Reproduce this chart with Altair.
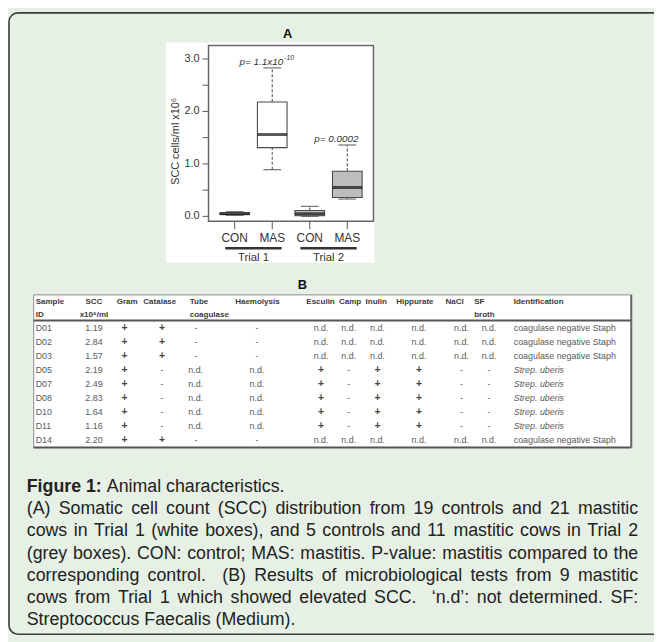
import altair as alt
import pandas as pd

# ---------------- canvas ----------------
W, H = 654, 634          # whole svg (page origin is at 8,8)
FONT = "Liberation Sans"
BG = "#e7f0e4"

# ---------------- Panel A data (SCC, x10^6 cells/ml) ----------------
trial = ["Trial 1", "Trial 1", "Trial 2", "Trial 2"]
group = ["CON", "MAS", "CON", "MAS"]
w_low = [0.02, 0.89, 0.00, 0.33]
q1 = [0.035, 1.31, 0.01, 0.36]
med = [0.05, 1.56, 0.05, 0.55]
q3 = [0.07, 2.18, 0.11, 0.86]
w_high = [0.09, 2.83, 0.19, 1.36]
y_tick_values = [0, 0.5, 1, 1.5, 2, 2.5, 3]
p_main = ["p= 1.1x10", "p= 0.0002"]
p_sup = ["-10", ""]
trial_names = ["Trial 1", "Trial 2"]

# ---------------- Panel B data (table) ----------------
sample_id = ["D01", "D02", "D03", "D05", "D07", "D08", "D10", "D11", "D14"]
scc = ["1.19", "2.84", "1.57", "2.19", "2.49", "2.83", "1.64", "1.16", "2.20"]
gram = ["+"] * 9
catalase = ["+", "+", "+", "-", "-", "-", "-", "-", "+"]
tube_coag = ["-", "-", "-", "n.d.", "n.d.", "n.d.", "n.d.", "n.d.", "-"]
haemolysis = ["-", "-", "-", "n.d.", "n.d.", "n.d.", "n.d.", "n.d.", "-"]
esculin = ["n.d."] * 3 + ["+"] * 5 + ["n.d."]
camp = ["n.d."] * 3 + ["-"] * 5 + ["n.d."]
inulin = ["n.d."] * 3 + ["+"] * 5 + ["n.d."]
hippurate = ["n.d."] * 3 + ["+"] * 5 + ["n.d."]
nacl = ["n.d."] * 3 + ["-"] * 5 + ["n.d."]
sf_broth = ["n.d."] * 3 + ["-"] * 5 + ["n.d."]
identification = ["coagulase negative Staph"] * 3 + ["Strep. uberis"] * 5 + ["coagulase negative Staph"]
header1 = ["Sample", "SCC", "Gram", "Catalase", "Tube", "Haemolysis", "Esculin",
           "Camp", "Inulin", "Hippurate", "NaCl", "SF", "Identification"]
header2 = ["ID", "x10\u2076/ml", "", "", "coagulase", "", "", "", "", "", "", "broth", ""]

# ---------------- Caption text ----------------
cap_bold = "Figure 1:"
cap_title = "Animal characteristics."
cap_lines = [
    "(A) Somatic cell count (SCC) distribution from 19 controls and 21 mastitic",
    "cows in Trial 1 (white boxes), and 5 controls and 11 mastitic cows in Trial 2",
    "(grey boxes). CON: control; MAS: mastitis. P-value: mastitis compared to the",
    "corresponding control.  (B) Results of microbiological tests from 9 mastitic",
    "cows from Trial 1 which showed elevated SCC.  \u2018n.d\u2019: not determined. SF:",
    "Streptococcus Faecalis (Medium).",
]

# ---------------- layout ----------------
# the view is the white area behind panel A (page px x 168..379, y 39..262)
VX0, VX1, VY0, VY1 = 168, 379, 39, 262
VW, VH = VX1 - VX0, VY1 - VY0
PAD = {"left": VX0 - 8, "top": VY0 - 8, "right": W - (VX0 - 8) - VW, "bottom": H - (VY0 - 8) - VH}
FX0, FX1, FY0, FY1 = 211, 378, 42, 220   # plot frame (page px)


def vx(v):  # page x -> view x
    return v - VX0


def vy(v):  # page y -> view y
    return v - VY0


AR = {' ': 278, '!': 278, '"': 355, '#': 556, '$': 556, '%': 889, '&': 667, "'": 191,
      '(': 333, ')': 333, '*': 389, '+': 584, ',': 278, '-': 333, '.': 278, '/': 278,
      ':': 278, ';': 278, '?': 556, 'A': 667, 'B': 667, 'C': 722, 'D': 722, 'E': 667,
      'F': 611, 'G': 778, 'H': 722, 'I': 278, 'J': 500, 'K': 667, 'L': 556, 'M': 833,
      'N': 722, 'O': 778, 'P': 667, 'Q': 778, 'R': 722, 'S': 667, 'T': 611, 'U': 722,
      'V': 667, 'W': 944, 'X': 667, 'Y': 667, 'Z': 611, 'a': 556, 'b': 556, 'c': 500,
      'd': 556, 'e': 556, 'f': 278, 'g': 556, 'h': 556, 'i': 222, 'j': 222, 'k': 500,
      'l': 222, 'm': 833, 'n': 556, 'o': 556, 'p': 556, 'q': 556, 'r': 333, 's': 500,
      't': 278, 'u': 556, 'v': 500, 'w': 722, 'x': 500, 'y': 500, 'z': 500,
      '\u2018': 222, '\u2019': 222}
for d in "0123456789":
    AR[d] = 556
ARB = {'F': 611, 'i': 278, 'g': 611, 'u': 611, 'r': 389, 'e': 556, ' ': 278, '1': 556, ':': 333}


def tw(s, fs, table=AR):
    return sum(table.get(c, 556) for c in s) * fs / 1000.0


# ---------------- scales ----------------
keys = [t + "|" + g for t, g in zip(trial, group)]
xs = alt.Scale(type="point", domain=keys, range=[vx(237.5), vx(351.5)], padding=0)
ys = alt.Scale(domain=[0, 3], range=[vy(215), vy(55.7)], nice=False, zero=False)

box = pd.DataFrame(dict(key=keys, trial=trial, group=group, lo=w_low, q1=q1, med=med, q3=q3, hi=w_high))
Xn = alt.X("key:N", scale=xs, axis=None)


def Yq(f):
    return alt.Y(f + ":Q", scale=ys, axis=None)


one = pd.DataFrame({"a": [0]})
ticks = pd.DataFrame({"v": y_tick_values})


def px_enc(**kw):
    return dict(x=alt.X("x:Q", scale=None, axis=None), y=alt.Y("y:Q", scale=None, axis=None),
                text="t:N", **kw)


layers = []

# outer panel border (rounded)
layers.append(alt.Chart(one).mark_rect(fill=None, stroke="#3c3c3c", strokeWidth=1.6, cornerRadius=9).encode(
    x=alt.value(vx(9)), x2=alt.value(vx(700)), y=alt.value(vy(9)), y2=alt.value(vy(638))))

# whiskers
layers.append(alt.Chart(box).mark_rule(color="#555", strokeDash=[3, 2], strokeWidth=1.1).encode(
    x=Xn, y=Yq("lo"), y2="q1:Q"))
layers.append(alt.Chart(box).mark_rule(color="#555", strokeDash=[3, 2], strokeWidth=1.1).encode(
    x=Xn, y=Yq("q3"), y2="hi:Q"))
# whisker caps
for f in ["lo", "hi"]:
    layers.append(alt.Chart(box).mark_tick(color="#444", size=18, thickness=1.3).encode(x=Xn, y=Yq(f)))
# boxes
layers.append(alt.Chart(box).mark_bar(size=30, stroke="#4a4a4a", strokeWidth=1.1).encode(
    x=Xn, y=Yq("q1"), y2="q3:Q",
    fill=alt.Fill("trial:N", scale=alt.Scale(domain=trial_names, range=["#ffffff", "#bdbdbd"]), legend=None)))
# medians
layers.append(alt.Chart(box).mark_tick(color="#111", size=30, thickness=3).encode(x=Xn, y=Yq("med")))

# plot frame
layers.append(alt.Chart(one).mark_rect(fill=None, stroke="#666", strokeWidth=1.5).encode(
    x=alt.value(vx(FX0)), x2=alt.value(vx(FX1)), y=alt.value(vy(FY0)), y2=alt.value(vy(FY1))))

# y axis: ticks + labels drawn through the y scale
layers.append(alt.Chart(ticks).mark_rule(color="#555", strokeWidth=1).encode(
    x=alt.value(vx(FX0) - 6), x2=alt.value(vx(FX0)), y=Yq("v")))
layers.append(alt.Chart(ticks).transform_filter("datum.v % 1 == 0").mark_text(
    font=FONT, fontSize=11, color="#333", align="right", baseline="middle").encode(
    x=alt.value(vx(FX0) - 9), y=Yq("v"), text=alt.Text("v:Q", format=".1f")))
# x axis: ticks + labels drawn through the x scale
layers.append(alt.Chart(box).mark_rule(color="#555", strokeWidth=1).encode(
    x=Xn, y=alt.value(vy(FY1)), y2=alt.value(vy(FY1) + 8)))
layers.append(alt.Chart(box).mark_text(font=FONT, fontSize=12, color="#333", baseline="middle").encode(
    x=Xn, y=alt.value(vy(237)), text="group:N"))

# p-values
pdf = pd.DataFrame(dict(key=[k for k in keys if k.endswith("MAS")],
                        hi=[h for k, h in zip(keys, w_high) if k.endswith("MAS")],
                        t=p_main, s=p_sup))
layers.append(alt.Chart(pdf).mark_text(font=FONT, fontSize=10, fontStyle="italic", color="#333",
                                        dx=-11, dy=-6, align="center", baseline="middle").encode(
    x=Xn, y=Yq("hi"), text="t:N"))
layers.append(alt.Chart(pdf[pdf.s != ""]).mark_text(font=FONT, fontSize=7, fontStyle="italic", color="#333",
                                                     dx=12, dy=-10, align="left", baseline="middle").encode(
    x=Xn, y=Yq("hi"), text="s:N"))

# trial underlines + labels
tdf = pd.DataFrame(dict(trial=trial_names,
                        start=[k for k in keys if k.endswith("CON")],
                        end=[k for k in keys if k.endswith("MAS")]))
layers.append(alt.Chart(tdf).mark_rule(color="#333", strokeWidth=2.4, xOffset=-9.5, x2Offset=9.5).encode(
    x=alt.X("start:N", scale=xs, axis=None), x2="end:N", y=alt.value(vy(247.3))))
layers.append(alt.Chart(tdf).mark_text(font=FONT, fontSize=11.5, color="#333", dx=19, baseline="middle").encode(
    x=alt.X("start:N", scale=xs, axis=None), y=alt.value(vy(257)), text="trial:N"))

# y title and panel letters
layers.append(alt.Chart(pd.DataFrame(dict(x=[vx(178)], y=[vy(139)], t=["SCC cells/ml x10\u2076"])))
              .mark_text(font=FONT, fontSize=11, color="#333", angle=270, baseline="middle").encode(**px_enc()))
layers.append(alt.Chart(pd.DataFrame(dict(x=[vx(291), vx(306)], y=[vy(30), vy(284.5)], t=["A", "B"])))
              .mark_text(font=FONT, fontSize=13, fontWeight="bold", color="#111", baseline="middle").encode(**px_enc()))

# ---------------- table ----------------
T_L, T_R, T_T, T_HB, T_B = vx(34), vx(639), vy(294.5), vy(320.5), vy(449)
layers.append(alt.Chart(one).mark_rect(fill="white", stroke="#8a8a8a", strokeWidth=1).encode(
    x=alt.value(T_L), x2=alt.value(T_R), y=alt.value(T_T), y2=alt.value(T_B)))
for yy in [T_HB, T_B]:
    layers.append(alt.Chart(one).mark_rule(color="#555", strokeWidth=2).encode(
        x=alt.value(T_L), x2=alt.value(T_R), y=alt.value(yy)))
layers.append(alt.Chart(one).mark_rule(color="#666", strokeWidth=2).encode(
    x=alt.value(T_R), y=alt.value(T_T), y2=alt.value(T_B)))

head_x = [36, 95, 118, 145, 192, 238, 310, 343, 370, 401, 451, 480, 520]
val_x = [36, 95, 126, 164, 198, 260, 325, 353, 382, 424, 467, 495, 520]
cols = [sample_id, scc, gram, catalase, tube_coag, haemolysis, esculin, camp, inulin,
        hippurate, nacl, sf_broth, identification]
H1_Y, H2_Y, R0_Y, R_DY = vy(302), vy(315), vy(328), 14.17

hl, hc = [], []
for j, (a, b) in enumerate(zip(header1, header2)):
    target = hc if j == 1 else hl
    target.append(dict(x=vx(head_x[j]), y=H1_Y, t=a))
    if b:
        target.append(dict(x=vx(head_x[j]), y=H2_Y, t=b))
for rows_, al in [(hl, "left"), (hc, "center")]:
    layers.append(alt.Chart(pd.DataFrame(rows_)).mark_text(
        font=FONT, fontSize=8.1, fontWeight="bold", color="#3a3a3a", align=al, baseline="middle").encode(**px_enc()))

left_rows, italic_rows, center_rows, plus_rows = [], [], [], []
for j, col in enumerate(cols):
    for i, v in enumerate(col):
        r = dict(x=vx(val_x[j]), y=R0_Y + i * R_DY, t=v)
        if j in (0, len(cols) - 1):
            (italic_rows if v.startswith("Strep") else left_rows).append(r)
        elif v == "+":
            plus_rows.append(r)
        else:
            center_rows.append(r)
layers.append(alt.Chart(pd.DataFrame(left_rows)).mark_text(
    font=FONT, fontSize=9, color="#5a5a5a", align="left", baseline="middle").encode(**px_enc()))
layers.append(alt.Chart(pd.DataFrame(italic_rows)).mark_text(
    font=FONT, fontSize=9, fontStyle="italic", color="#5a5a5a", align="left", baseline="middle").encode(**px_enc()))
layers.append(alt.Chart(pd.DataFrame(center_rows)).mark_text(
    font=FONT, fontSize=9, color="#5a5a5a", align="center", baseline="middle").encode(**px_enc()))
layers.append(alt.Chart(pd.DataFrame(plus_rows)).mark_text(
    font=FONT, fontSize=10.5, fontWeight="bold", color="#444", align="center", baseline="middle").encode(**px_enc()))

# ---------------- caption (justified) ----------------
FS = 18
CAP_L, CAP_R = vx(27), vx(646)
CAP_Y0, CAP_DY = vy(489), 22.5
bold_rows = [dict(x=CAP_L, y=CAP_Y0, t=cap_bold)]
word_rows = [dict(x=CAP_L + tw(cap_bold + " ", FS, ARB), y=CAP_Y0, t=cap_title)]
for i, line in enumerate(cap_lines):
    y = CAP_Y0 + (i + 1) * CAP_DY
    words = line.split(" ")
    if i == len(cap_lines) - 1:
        gap = tw(" ", FS)
    else:
        gap = (CAP_R - CAP_L - sum(tw(w, FS) for w in words)) / (len(words) - 1)
    x = CAP_L
    for w in words:
        if w:
            word_rows.append(dict(x=x, y=y, t=w))
        x += tw(w, FS) + gap
layers.append(alt.Chart(pd.DataFrame(bold_rows)).mark_text(
    font=FONT, fontSize=FS, fontWeight="bold", color="#222", align="left", baseline="middle").encode(**px_enc()))
layers.append(alt.Chart(pd.DataFrame(word_rows)).mark_text(
    font=FONT, fontSize=FS, color="#222", align="left", baseline="middle").encode(**px_enc()))

chart = alt.layer(*layers).properties(
    width=VW, height=VH, padding=PAD, background=BG,
    autosize=alt.AutoSizeParams(type="none"),
).configure_view(stroke=None, fill="white")

chart.save("out.html", embed_options={"renderer": "svg", "actions": False})
